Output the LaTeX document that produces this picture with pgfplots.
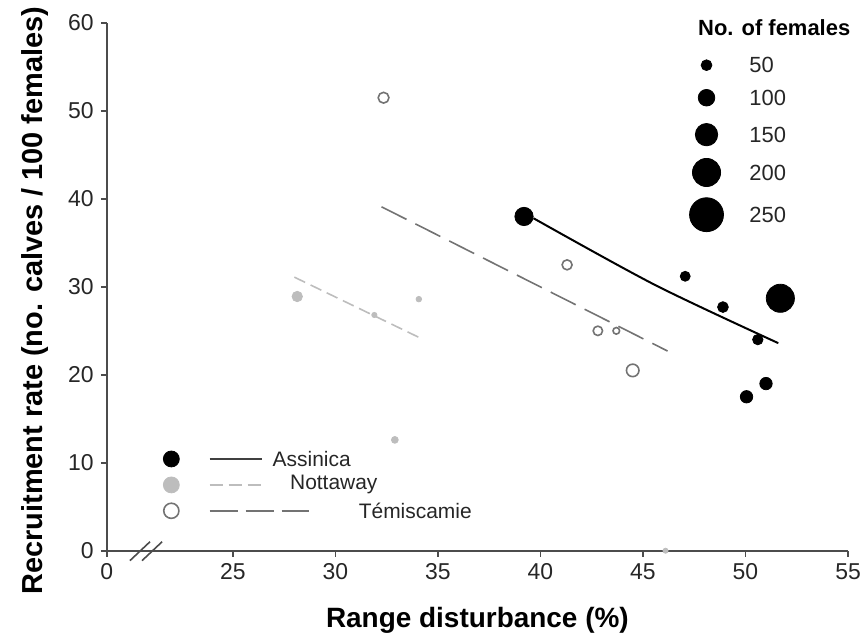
\documentclass[border=0pt]{standalone}
\usepackage{pgfplots}
\pgfplotsset{compat=1.18}
\usepackage{pgfplotstable}
\usepackage{fontspec}
\setmainfont{Liberation Sans}

% x y n (n = number of females)
\pgfplotstableread{
x     y     n
39.2  38.0  115
47.06 31.2  43
48.9  27.7  50
50.6  24.0  47
51.7  28.7  200
51.0  19.0  64
50.05 17.5  64
}\assinica
\pgfplotstableread{
x     y     n
28.14 28.9  47
34.07 28.6  5
31.9  26.8  2
32.9  12.6  16
46.1  0.0   1
}\nottaway
\pgfplotstableread{
x     y     n
32.35 51.5  50
41.3  32.5  43
42.8  25.0  38
43.7  25.0  14
44.5  20.5  65
}\temiscamie
\pgfplotstableread{
x     y     n
48.1  55.2  50
48.1  51.5  100
48.1  47.3  150
48.1  43.0  200
48.1  38.2  250
}\sizelegend

\definecolor{nottgray}{gray}{0.74}
\definecolor{temgray}{gray}{0.45}

\pgfplotsset{
  bubble/.style={
    only marks, mark=*, scatter,
    visualization depends on={\thisrow{n} \as \nn},
    scatter/@pre marker code/.code={%
      \pgfmathsetmacro\ms{1.25+0.029*\nn}%
      \scope[mark size=\ms pt]},
    scatter/@post marker code/.code={\endscope},
  },
}

\begin{document}
\begin{tikzpicture}
\begin{axis}[
  scale only axis,
  width=371.5pt, height=264.5pt,
  xmin=18.85, xmax=55, ymin=0, ymax=60,
  axis lines=left,
  axis line style={-, black!70, line width=0.8pt},
  tick style={black!70, line width=0.8pt},
  tick align=outside,
  major tick length=3pt,
  xtick={18.85,25,30,35,40,45,50,55},
  xticklabels={0,25,30,35,40,45,50,55},
  ytick={0,10,...,60},
  /pgf/number format/assume math mode=true,
  ticklabel style={font=\fontsize{11.5}{13}\selectfont, text=black!85},
  xlabel={Range disturbance (\%)},
  ylabel={Recruitment rate (no. calves / 100 females)},
  xlabel style={font=\fontsize{14}{16}\selectfont\bfseries, at={(axis description cs:0.5,-0.132)}, anchor=center},
  ylabel style={font=\fontsize{14.5}{16}\selectfont\bfseries, at={(axis description cs:-0.097,0.474)}, anchor=center},
  clip=false,
]
% regression lines
\addplot[black, line width=1pt, smooth] coordinates {(39.66,37.8) (45.6,30.2) (51.6,23.6)};
\addplot[nottgray, line width=0.8pt, dash pattern=on 6pt off 3pt] coordinates {(28.0,31.1) (34.3,24.0)};
\addplot[temgray, line width=0.8pt, dash pattern=on 14pt off 5pt] coordinates {(32.25,39.1) (46.2,22.7)};

% data points
\addplot[bubble, mark options={draw=nottgray, fill=nottgray}] table {\nottaway};
\addplot[bubble, mark options={draw=temgray, fill=white, line width=0.8pt}] table {\temiscamie};
\addplot[bubble, mark options={draw=black, fill=black}] table {\assinica};

% size legend
\addplot[bubble, mark options={draw=black, fill=black}] table {\sizelegend};
\node[font=\fontsize{11}{13}\selectfont\bfseries, anchor=center] at (axis cs:51.4,59.5) {No. of females};
\foreach \v/\yy in {50/55.2,100/51.5,150/47.3,200/43.0,250/38.2}{
  \edef\tmp{\noexpand\node[font=\noexpand\fontsize{11}{13}\noexpand\selectfont, text=black!85, anchor=west] at (axis cs:49.85,\yy) {\v};}
  \tmp
}

% group legend
\addplot[only marks, mark=*, mark size=4pt, black] coordinates {(22.0,10.43)};
\addplot[only marks, mark=*, mark size=4pt, draw=nottgray, fill=nottgray] coordinates {(22.0,7.48)};
\addplot[only marks, mark=*, mark size=3.8pt, mark options={draw=temgray, fill=white, line width=0.8pt}] coordinates {(22.0,4.54)};
\addplot[black!75, line width=1.2pt] coordinates {(23.87,10.43) (26.42,10.43)};
\addplot[nottgray, line width=0.8pt, dash pattern=on 6.5pt off 3pt] coordinates {(23.87,7.48) (26.42,7.48)};
\addplot[temgray, line width=0.8pt, dash pattern=on 14pt off 4pt] coordinates {(23.87,4.54) (28.87,4.54)};
\node[font=\fontsize{10.5}{12}\selectfont, text=black!85, anchor=west] at (axis cs:26.6,10.43) {Assinica};
\node[font=\fontsize{10.5}{12}\selectfont, text=black!85, anchor=west] at (axis cs:27.45,7.48) {Nottaway};
\node[font=\fontsize{10.5}{12}\selectfont, text=black!85, anchor=west] at (axis cs:30.8,4.54) {Témiscamie};

% axis break
\draw[black!70, line width=0.8pt] (axis cs:19.98,-1.13) -- (axis cs:20.96,1.02);
\draw[black!70, line width=0.8pt] (axis cs:20.57,-1.13) -- (axis cs:21.55,1.02);

% picture frame as in the reference
\coordinate (bbsw) at (axis description cs:-0.144,-0.174);
\coordinate (bbne) at (axis description cs:1.0175,1.0435);
\end{axis}
\pgfresetboundingbox
\path[use as bounding box] (bbsw) rectangle (bbne);
\end{tikzpicture}
\end{document}
